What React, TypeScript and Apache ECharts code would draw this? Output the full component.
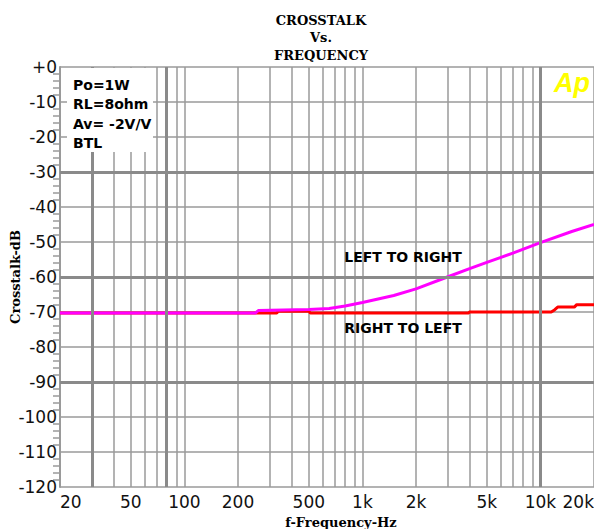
import React, { useEffect, useRef } from 'react';
import * as echarts from 'echarts';

const tickFreqs = [20, 30, 40, 50, 60, 70, 80, 90, 100, 200, 300, 400, 500, 600, 700, 800, 900, 1000, 2000, 3000, 4000, 5000, 6000, 7000, 8000, 9000, 10000, 20000];
const labelFreqs = [20, 50, 100, 200, 500, 1000, 2000, 5000, 10000, 20000];
const labelTexts = ['20', '50', '100', '200', '500', '1k', '2k', '5k', '10k', '20k'];
const boldFreqs = [30, 80, 10000];
const boldLevels = [-30, -60, -90];

const ltrFreq = [20, 250, 260, 500, 650, 800, 1000, 1500, 2000, 3000, 4000, 5000, 7000, 10000, 15000, 20000];
const ltrDb = [-70.3, -70.3, -69.6, -69.3, -69.0, -68.3, -67.3, -65.3, -63.4, -60.0, -57.6, -55.8, -53.2, -50.2, -47.0, -45.0];

const rtlFreq = [20, 330, 335, 500, 510, 3960, 3980, 10000, 11500, 12000, 12500, 15500, 16000, 20000];
const rtlDb = [-70.3, -70.3, -69.8, -69.8, -70.3, -70.3, -70.0, -70.0, -70.0, -69.4, -68.6, -68.6, -67.9, -67.9];

const notes = ['Po=1W', 'RL=8ohm', 'Av= -2V/V', 'BTL'];
const titleLines = ['CROSSTALK', 'Vs.', 'FREQUENCY'];

const lg = (f: number) => Math.log10(f);

export default function App() {
  const ref = useRef<HTMLDivElement>(null);
  useEffect(() => {
    if (!ref.current) return;
    const chart = echarts.init(ref.current, null, { renderer: 'svg' });
    const labelFor = (v: number) => {
      const i = labelFreqs.findIndex((f) => Math.abs(lg(f) - v) < 1e-6);
      return i >= 0 ? labelTexts[i] : '';
    };
    const serif = 'DejaVu Serif';
    const sans = 'DejaVu Sans';
    const option: any = {
      animation: false,
      backgroundColor: '#ffffff',
      grid: { left: 60, right: 0, top: 67, bottom: 42, containLabel: false, outerBoundsMode: 'none' },
      xAxis: {
        type: 'value',
        min: lg(20),
        max: lg(20000),
        name: 'f-Frequency-Hz',
        nameLocation: 'middle',
        nameGap: 29,
        nameMoveOverlap: false,
        nameTextStyle: { fontFamily: serif, fontWeight: 'bold', fontSize: 13, color: '#000', padding: [0, 0, 0, 28] },
        axisLine: { show: false },
        axisTick: { show: false, customValues: tickFreqs.map(lg) },
        axisLabel: {
          customValues: labelFreqs.map(lg),
          formatter: labelFor,
          fontFamily: sans,
          fontSize: 17,
          color: '#111',
          margin: 6,
          alignMinLabel: 'left',
          alignMaxLabel: 'right',
        },
        splitLine: { show: true, lineStyle: { color: '#9a9a9a', width: 1.5 } },
      },
      yAxis: {
        type: 'value',
        min: -120,
        max: 0,
        interval: 10,
        name: 'Crosstalk-dB',
        nameLocation: 'middle',
        nameGap: 38,
        nameRotate: 90,
        nameMoveOverlap: false,
        nameTextStyle: { fontFamily: serif, fontWeight: 'bold', fontSize: 13, color: '#000' },
        axisLine: { show: true, lineStyle: { color: '#9a9a9a', width: 2 } },
        axisTick: { show: false },
        minorTick: { show: true, splitNumber: 5, length: 7, lineStyle: { color: '#9a9a9a', width: 1.5 } },
        axisLabel: {
          formatter: (v: number) => (v === 0 ? '+0' : String(v)),
          fontFamily: sans,
          fontSize: 17,
          color: '#111',
          margin: 3,
        },
        splitLine: { show: true, lineStyle: { color: '#9a9a9a', width: 1.5 } },
      },
      series: [
        {
          type: 'line',
          data: [],
          z: 1,
          silent: true,
          markLine: {
            silent: true,
            symbol: 'none',
            label: { show: false },
            lineStyle: { color: '#8a8a8a', width: 3, type: 'solid' },
            data: [
              ...boldFreqs.map((f) => ({ xAxis: lg(f) })),
              ...boldLevels.map((d) => ({ yAxis: d })),
            ],
          },
        },
        {
          name: 'RIGHT TO LEFT',
          type: 'line',
          z: 3,
          showSymbol: false,
          lineStyle: { color: '#ff0000', width: 3 },
          itemStyle: { color: '#ff0000' },
          data: rtlFreq.map((f, i) => [lg(f), rtlDb[i]]),
        },
        {
          name: 'LEFT TO RIGHT',
          type: 'line',
          z: 4,
          showSymbol: false,
          lineStyle: { color: '#ff00ff', width: 3 },
          itemStyle: { color: '#ff00ff' },
          data: ltrFreq.map((f, i) => [lg(f), ltrDb[i]]),
        },
      ],
      graphic: [
        ...titleLines.map((t, i) => ({
          type: 'text',
          x: 321,
          y: 20 + i * 17.5,
          z: 10,
          style: { text: t, fontFamily: serif, fontWeight: 'bold', fontSize: 13, fill: '#000', align: 'center', verticalAlign: 'middle' },
        })),
        {
          type: 'rect',
          z: 100,
          shape: { x: 67, y: 68, width: 86, height: 84 },
          style: { fill: '#ffffff' },
        },
        ...notes.map((t, i) => ({
          type: 'text',
          z: 101,
          x: 73,
          y: 85 + i * 19.3,
          style: { text: t, fontFamily: sans, fontWeight: 'bold', fontSize: 14, fill: '#000', align: 'left', verticalAlign: 'middle' },
        })),
        {
          type: 'text',
          z: 101,
          x: 572,
          y: 83,
          style: { text: 'Ap', fontFamily: 'Liberation Sans', fontWeight: 'bold', fontStyle: 'italic', fontSize: 27, fill: '#ffff00', align: 'center', verticalAlign: 'middle' },
        },
        {
          type: 'text',
          z: 101,
          x: 403,
          y: 257,
          style: { text: 'LEFT TO RIGHT', fontFamily: sans, fontWeight: 'bold', fontSize: 14, fill: '#000', align: 'center', verticalAlign: 'middle' },
        },
        {
          type: 'text',
          z: 101,
          x: 403,
          y: 328,
          style: { text: 'RIGHT TO LEFT', fontFamily: sans, fontWeight: 'bold', fontSize: 14, fill: '#000', align: 'center', verticalAlign: 'middle' },
        },
      ],
    };
    chart.setOption(option);
    return () => chart.dispose();
  }, []);
  return <div ref={ref} style={{ width: 594, height: 529, position: 'absolute', left: 0, top: 0 }} />;
}
